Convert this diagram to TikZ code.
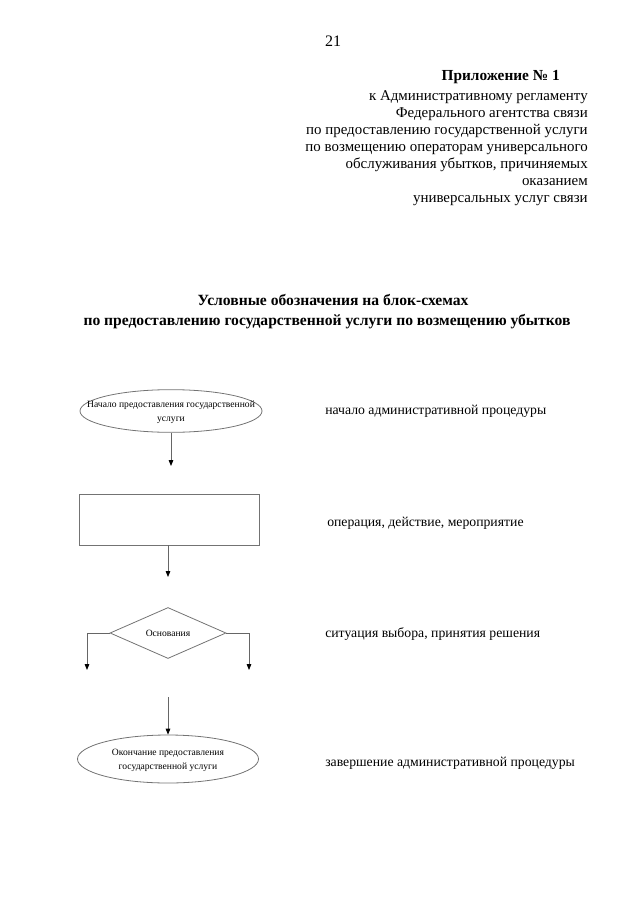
\documentclass[tikz,border=0pt]{standalone}
\usepackage{fontspec}
\setmainfont{Liberation Serif}
\usetikzlibrary{shapes.geometric,arrows.meta}
\begin{document}
\begin{tikzpicture}[x=0.75pt,y=-0.75pt,
  hdr/.style={anchor=base east,inner sep=0pt,font=\fontsize{11.2}{13}\selectfont},
  ttl/.style={anchor=base,inner sep=0pt,font=\fontsize{11.7}{13}\selectfont\bfseries},
  lbl/.style={anchor=base west,inner sep=0pt,font=\fontsize{10.3}{13}\selectfont},
  shp/.style={draw=black!55,line width=0.6pt},
  small/.style={font=\fontsize{7.2}{10.5}\selectfont,align=center,inner sep=0pt},
  arr/.style={draw=black!60,line width=0.6pt,-{Triangle[length=4.5pt,width=3.5pt,color=black]}}
]
\useasboundingbox (0,0) rectangle (640,905);
% header
\node[inner sep=0pt,anchor=base,font=\fontsize{12}{14}\selectfont] (pg) at (333,47) {21};
\node[hdr,font=\fontsize{11.5}{13}\selectfont\bfseries] (h0) at (560,81) {Приложение № 1};
\node[hdr] (h1) at (588,101) {к Административному регламенту};
\node[hdr] (h2) at (588,118) {Федерального агентства связи};
\node[hdr] (h3) at (588,135) {по предоставлению государственной услуги};
\node[hdr] (h4) at (588,152) {по возмещению операторам универсального};
\node[hdr] (h5) at (588,169) {обслуживания убытков, причиняемых};
\node[hdr] (h6) at (588,186) {оказанием};
\node[hdr] (h7) at (588,203) {универсальных услуг связи};
% title
\node[ttl] (t1) at (333,305) {Условные обозначения на блок-схемах};
\node[ttl] (t2) at (327,325) {по предоставлению государственной услуги по возмещению убытков};
% shapes
\node[shp,ellipse,minimum width=136.5pt,minimum height=32pt,inner sep=0pt] (e1) at (171,411) {};
\node[small] (e1t) at (171,412) {Начало предоставления государственной\\услуги};
\coordinate (a1) at (171,466);
\draw[arr] (e1.south) -- (a1);

\node[shp,rectangle,minimum width=135pt,minimum height=38.25pt,inner sep=0pt] (r) at (169,519.5) {};
\coordinate (a2) at (168,577);
\draw[arr] (r.south -| a2) -- (a2);

\node[shp,diamond,minimum width=87pt,minimum height=38.25pt,inner sep=0pt,aspect=2.3] (d) at (168,633) {};
\node[small] (dt) at (168,633) {Основания};
\coordinate (dl) at (87,670);
\coordinate (dr) at (249,670);
\draw[arr] (d.west) -| (dl);
\draw[arr] (d.east) -| (dr);

\coordinate (s4) at (168,697);
\node[shp,ellipse,minimum width=135.75pt,minimum height=36pt,inner sep=0pt] (e2) at (168,759) {};
\node[small] (e2t) at (168,760) {Окончание предоставления\\государственной услуги};
\draw[arr] (s4) -- (e2.north);

% labels
\node[lbl] (l1) at (325,414) {начало административной процедуры};
\node[lbl] (l2) at (327,526) {операция, действие, мероприятие};
\node[lbl] (l3) at (325,637) {ситуация выбора, принятия решения};
\node[lbl] (l4) at (325,766) {завершение административной процедуры};
\end{tikzpicture}
\end{document}
